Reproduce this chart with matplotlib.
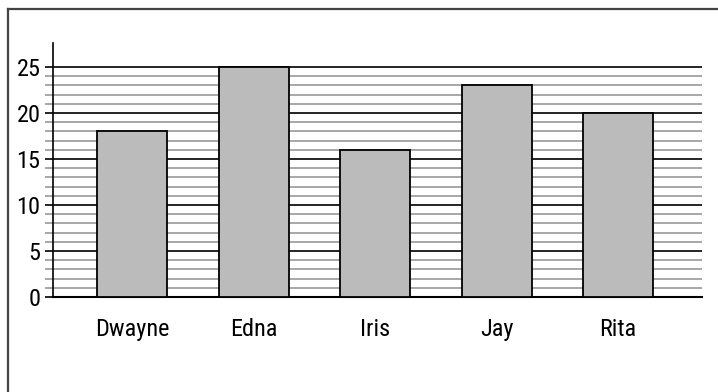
import matplotlib
matplotlib.use("Agg")
import matplotlib.pyplot as plt
from matplotlib.lines import Line2D
from matplotlib.ticker import FixedLocator

names = ["Dwayne", "Edna", "Iris", "Jay", "Rita"]
values = [18, 25, 16, 23, 20]
yticks = [0, 5, 10, 15, 20, 25]
minor_ticks = [v for v in range(1, 25) if v % 5 != 0]

plt.rcParams['font.family'] = ['Roboto Condensed', 'DejaVu Sans']

fig = plt.figure(figsize=(7.18, 3.92), dpi=100)
ax = fig.add_axes([53/718, 1-297/392, (702-53)/718, (297-43)/392])

x = list(range(len(names)))
ax.bar(x, values, width=0.576, color="#bbbbbb", edgecolor="black", linewidth=1.3, zorder=3)

ax.set_xlim(-0.65, 4.69)
ax.set_ylim(0, 27.6)
ax.set_yticks(yticks)
ax.yaxis.set_minor_locator(FixedLocator(minor_ticks))
ax.set_xticks(x)
ax.set_xticklabels(names)

ax.grid(axis="y", which="major", color="black", linewidth=1.2, zorder=0)
ax.grid(axis="y", which="minor", color="#a0a0a0", linewidth=1.3, zorder=0)
ax.tick_params(axis="y", which="major", length=6, width=1.2, color="black", labelsize=17.5, pad=3)
ax.tick_params(axis="y", which="minor", length=6, width=1.3, color="#a0a0a0")
ax.tick_params(axis="x", length=0, labelsize=17.5, pad=15)
ax.set_axisbelow(True)

for s in ["top", "right"]:
    ax.spines[s].set_visible(False)
ax.spines["left"].set_linewidth(1.2)
ax.spines["bottom"].set_linewidth(1.5)

# figure border (left and top edges visible)
fig.add_artist(Line2D([7.5/718, 7.5/718], [0, 1-8.5/392], transform=fig.transFigure, color="#444444", linewidth=1.6))
fig.add_artist(Line2D([7.5/718, 1], [1-8.5/392, 1-8.5/392], transform=fig.transFigure, color="#444444", linewidth=1.6))

fig.savefig("out.png", dpi=100)
